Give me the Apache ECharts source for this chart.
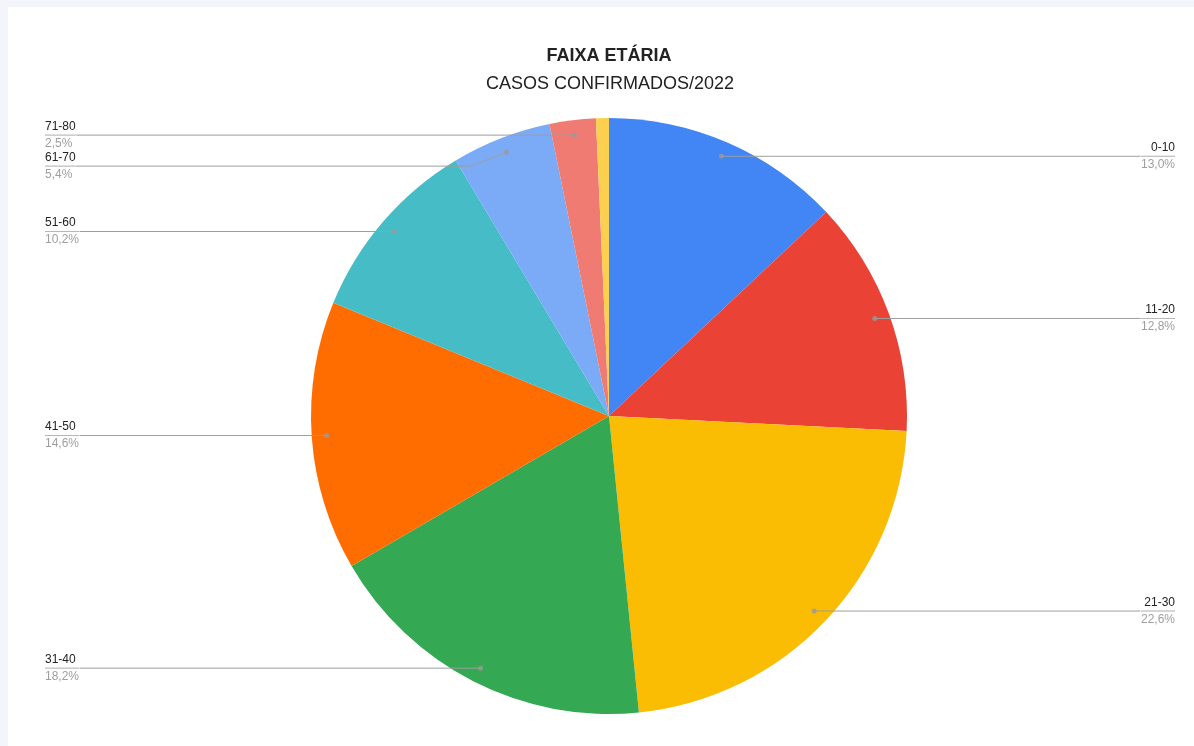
<!DOCTYPE html>
<html>
<head>
<meta charset="utf-8">
<script src="https://cdn.jsdelivr.net/npm/echarts@6/dist/echarts.min.js"></script>
<style>
html,body{margin:0;padding:0;background:#f3f5fb;width:1194px;height:746px;overflow:hidden;}
#bg{position:absolute;left:8px;top:7px;right:0;bottom:0;background:#ffffff;}
#chart{position:absolute;left:0;top:0;width:1194px;height:746px;}
</style>
</head>
<body>
<div id="bg"></div>
<div id="chart"></div>
<script>
const categories = ['0-10', '11-20', '21-30', '31-40', '41-50', '51-60', '61-70', '71-80', '81-90'];
const values = [13.0, 12.8, 22.6, 18.2, 14.6, 10.2, 5.4, 2.5, 0.7];
const colors = ['#4285f4', '#ea4335', '#fbbc04', '#34a853', '#ff6d01', '#46bdc6', '#7baaf7', '#f07b72', '#fcd04f'];
const titleText = 'FAIXA ETÁRIA';
const subtitleText = 'CASOS CONFIRMADOS/2022';

const FONT = '"Liberation Sans", Arial, sans-serif';
const total = values.reduce((a, b) => a + b, 0);
const minLabel = 1;

const pieData = categories.map((c, i) => ({ name: c, value: values[i], itemStyle: { color: colors[i] } }));
const labelData = categories.map((c, i) => {
  const show = values[i] >= minLabel;
  return { name: c, value: values[i], label: { show: show }, labelLine: { show: show } };
});
let cum = 0;
const dotData = [];
values.forEach((v) => {
  const mid = (cum + v / 2) / total * 100;
  if (v >= minLabel) dotData.push([0.95, mid]);
  cum += v;
});

const chart = echarts.init(document.getElementById('chart'));
chart.setOption({
  animation: false,
  textStyle: { fontFamily: FONT },
  title: [
    { text: titleText, left: 609, top: 47, textAlign: 'center', padding: 0,
      textStyle: { fontFamily: FONT, fontSize: 18, fontWeight: 'bold', color: '#222' } },
    { text: subtitleText, left: 610, top: 75, textAlign: 'center', padding: 0,
      textStyle: { fontFamily: FONT, fontSize: 18, fontWeight: 'normal', color: '#222' } }
  ],
  polar: { center: [609, 416], radius: 298 },
  angleAxis: { type: 'value', min: 0, max: 100, startAngle: 90, clockwise: true, show: false },
  radiusAxis: { type: 'value', min: 0, max: 1, show: false },
  series: [
    {
      type: 'pie',
      z: 2,
      left: 45, right: 19, top: 0, bottom: 0,
      center: [564, 416],
      radius: [0, 298],
      startAngle: 90,
      clockwise: true,
      silent: true,
      label: { show: false },
      labelLine: { show: false },
      itemStyle: { borderWidth: 0 },
      data: pieData
    },
    {
      type: 'pie',
      z: 4,
      left: 45, right: 19, top: 0, bottom: 0,
      center: [564, 416],
      radius: [0, 283],
      startAngle: 90,
      clockwise: true,
      silent: true,
      itemStyle: { color: 'rgba(0,0,0,0)' },
      label: {
        show: true,
        position: 'outside',
        alignTo: 'edge',
        edgeDistance: 0,
        distanceToLabelLine: 0,
        formatter: function (p) {
          return '{a|' + p.name + '}\n{hr|}\n{b|' + p.percent.toFixed(1).replace('.', ',') + '%}';
        },
        rich: {
          a: { fontFamily: FONT, fontSize: 12, color: '#222', lineHeight: 17 },
          hr: { borderColor: '#9e9e9e', width: '100%', borderWidth: 0.5, height: 0 },
          b: { fontFamily: FONT, fontSize: 12, color: '#9e9e9e', lineHeight: 17 }
        }
      },
      labelLine: { show: true, length: 0, length2: 10, lineStyle: { color: '#9e9e9e', width: 1 } },
      data: labelData
    },
    {
      type: 'scatter',
      coordinateSystem: 'polar',
      silent: true,
      symbolSize: 5,
      itemStyle: { color: '#9a9a9a' },
      data: dotData,
      z: 6
    }
  ]
});
</script>
</body>
</html>
